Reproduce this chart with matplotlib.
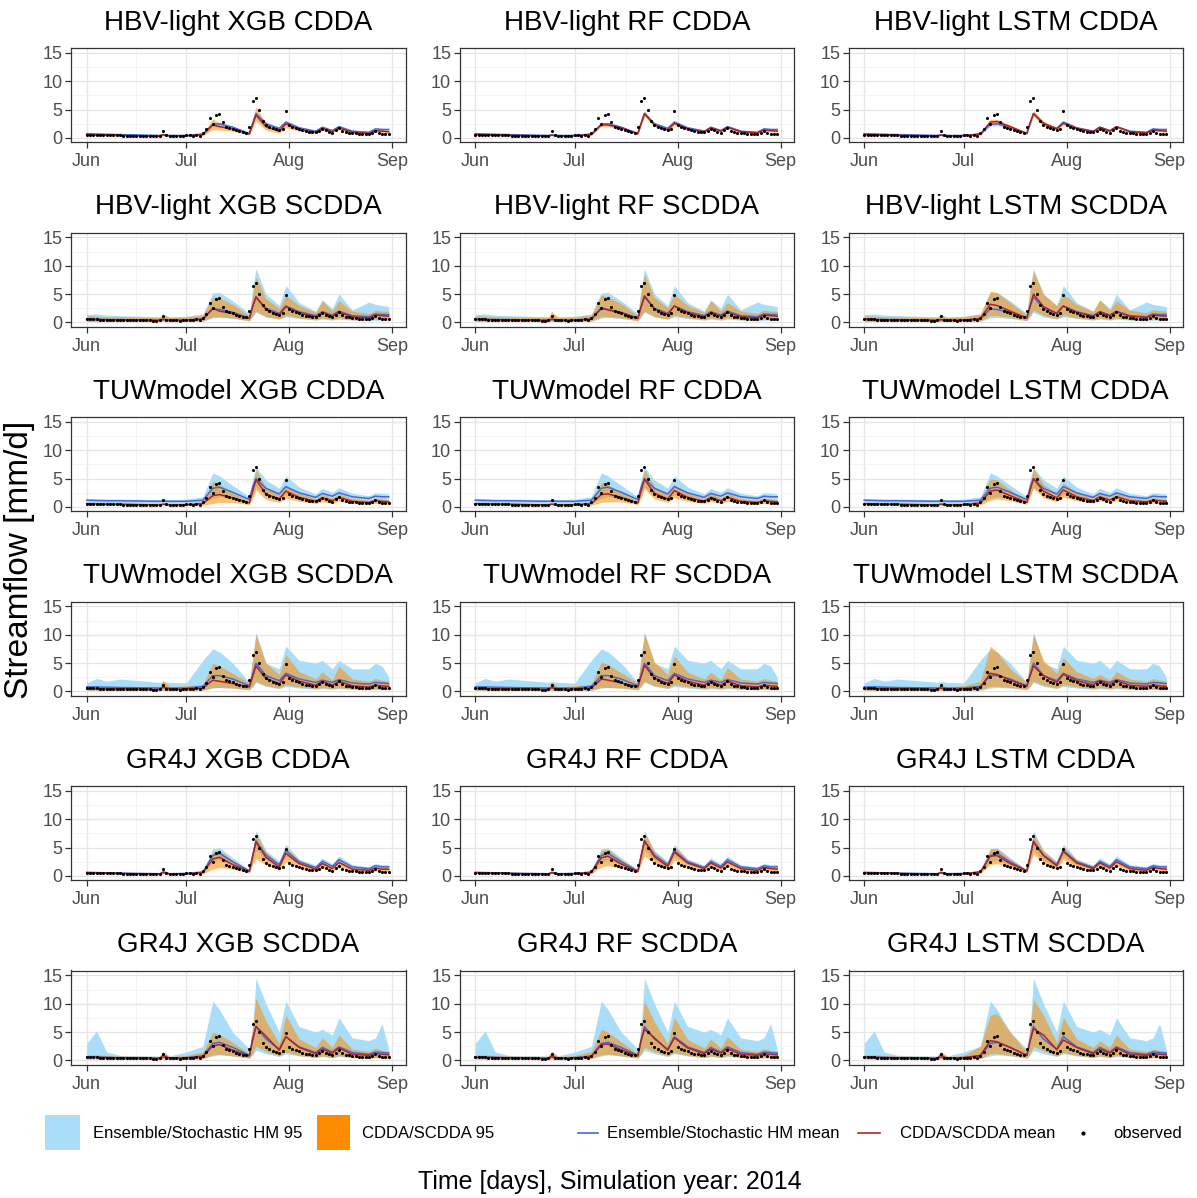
import numpy as np
import matplotlib
matplotlib.use("Agg")
import matplotlib.pyplot as plt
from matplotlib.patches import Rectangle
from matplotlib.lines import Line2D

plt.rcParams['font.family'] = ['Liberation Sans', 'DejaVu Sans']

# observed daily streamflow, 1 Jun - 31 Aug 2014 [mm/d]
observed = [0.55, 0.6, 0.55, 0.55, 0.5, 0.5, 0.5, 0.45, 0.45, 0.45,
            0.45, 0.4, 0.4, 0.4, 0.4, 0.4, 0.35, 0.35, 0.35, 0.35,
            0.3, 0.3, 0.35, 1.2, 0.5, 0.4, 0.35, 0.35, 0.3, 0.4,
            0.5, 0.5, 0.4, 0.6, 0.4, 0.8, 1.5, 3.5, 2.5, 4.1,
            4.3, 2.8, 2.0, 1.8, 1.6, 1.4, 1.2, 1.0, 0.9, 2.0,
            6.5, 7.0, 5.0, 3.0, 2.3, 2.0, 1.7, 1.5, 1.4, 1.6,
            4.8, 2.3, 2.0, 1.8, 1.6, 1.4, 1.2, 1.1, 1.0, 1.0,
            1.3, 1.6, 1.4, 1.1, 0.9, 1.4, 1.8, 1.3, 1.0, 0.9,
            0.8, 0.8, 0.7, 0.7, 0.7, 0.7, 0.8, 1.2, 0.8, 0.7, 0.7, 0.7]
obs_days = np.arange(len(observed))

# days (since 1 Jun) at which the simulated series were read off
key_days = [0, 3, 6, 10, 22, 23, 25, 30, 35, 38, 40, 44, 49, 50, 51, 54, 58, 60,
            64, 69, 71, 74, 76, 80, 85, 87, 89, 91]

models = ["HBV-light", "HBV-light", "TUWmodel", "TUWmodel", "GR4J", "GR4J"]
schemes = ["CDDA", "SCDDA", "CDDA", "SCDDA", "CDDA", "SCDDA"]
methods = ["XGB", "RF", "LSTM"]

# ---- ensemble / stochastic hydrological model (one per row) ----
hm_mean_hbv_cdda = [0.75, 0.7, 0.65, 0.6, 0.45, 0.55, 0.45, 0.45, 0.7, 2.4, 2.5, 1.9, 0.8, 2.6, 4.3, 2.5, 1.7, 2.8, 1.8, 1.2, 1.9, 1.3, 2.0, 1.2, 1.0, 1.6, 1.5, 1.5]
hm_lo_hbv_cdda = [0.6, 0.55, 0.5, 0.45, 0.35, 0.4, 0.35, 0.35, 0.55, 2.1, 2.2, 1.7, 0.65, 2.3, 3.9, 2.2, 1.5, 2.5, 1.6, 1.0, 1.7, 1.1, 1.8, 1.0, 0.85, 1.4, 1.3, 1.3]
hm_hi_hbv_cdda = [0.9, 0.85, 0.8, 0.75, 0.55, 0.7, 0.55, 0.55, 0.85, 2.7, 2.8, 2.1, 0.95, 2.9, 4.7, 2.8, 1.9, 3.1, 2.0, 1.4, 2.1, 1.5, 2.2, 1.4, 1.15, 1.8, 1.7, 1.7]

hm_mean_hbv_scdda = [0.6, 0.55, 0.5, 0.5, 0.4, 0.5, 0.4, 0.45, 0.6, 2.4, 2.3, 1.8, 0.8, 2.8, 4.5, 2.5, 1.6, 2.9, 1.9, 1.2, 1.9, 1.3, 2.0, 1.2, 1.0, 1.5, 1.4, 1.4]
hm_lo_hbv_scdda = [0.2, 0.2, 0.2, 0.2, 0.15, 0.2, 0.15, 0.15, 0.2, 0.8, 0.9, 0.7, 0.3, 1.0, 1.8, 1.0, 0.6, 1.0, 0.7, 0.4, 0.6, 0.4, 0.6, 0.4, 0.3, 0.4, 0.4, 0.4]
hm_hi_hbv_scdda = [1.4, 1.5, 1.3, 1.2, 1.0, 1.3, 1.0, 1.1, 1.5, 5.2, 5.3, 3.8, 1.6, 6.0, 9.5, 5.0, 3.0, 6.5, 3.5, 2.0, 4.0, 2.5, 5.0, 2.2, 3.6, 3.2, 3.0, 2.8]

hm_mean_tuw_cdda = [1.2, 1.15, 1.1, 1.1, 1.0, 1.05, 1.0, 1.0, 1.2, 3.3, 3.5, 2.6, 1.3, 3.5, 5.0, 3.3, 2.3, 3.6, 2.5, 1.7, 2.4, 1.9, 2.5, 1.8, 1.5, 1.9, 1.8, 1.8]
hm_lo_tuw_cdda = [0.8, 0.75, 0.7, 0.7, 0.6, 0.65, 0.6, 0.6, 0.7, 1.5, 1.8, 1.5, 0.8, 2.0, 3.5, 2.0, 1.4, 2.2, 1.6, 1.1, 1.5, 1.2, 1.6, 1.1, 0.9, 1.2, 1.1, 1.1]
hm_hi_tuw_cdda = [1.5, 1.45, 1.4, 1.4, 1.3, 1.4, 1.3, 1.4, 1.8, 6.0, 5.5, 3.8, 1.8, 5.0, 7.0, 4.8, 3.3, 5.5, 3.5, 2.3, 3.3, 2.6, 3.4, 2.4, 2.0, 2.5, 2.4, 2.3]

hm_mean_tuw_scdda = [0.8, 0.8, 0.75, 0.7, 0.6, 0.7, 0.6, 0.6, 0.9, 2.8, 2.8, 2.2, 1.0, 3.0, 5.0, 2.8, 1.9, 3.2, 2.2, 1.6, 2.0, 1.6, 2.1, 1.5, 1.3, 1.6, 1.5, 1.4]
hm_lo_tuw_scdda = [0.2, 0.2, 0.2, 0.2, 0.15, 0.2, 0.15, 0.15, 0.2, 0.6, 0.7, 0.6, 0.3, 0.8, 1.6, 0.9, 0.5, 0.9, 0.6, 0.4, 0.5, 0.4, 0.5, 0.4, 0.3, 0.4, 0.3, 0.3]
hm_hi_tuw_scdda = [1.5, 2.3, 1.8, 2.2, 1.6, 1.8, 1.6, 1.5, 5.5, 7.5, 7.0, 5.0, 1.6, 6.0, 10.5, 5.0, 4.0, 8.0, 5.5, 5.0, 5.5, 4.0, 5.5, 4.0, 4.0, 5.0, 4.5, 2.5]

hm_mean_gr4j_cdda = [0.65, 0.6, 0.55, 0.5, 0.4, 0.6, 0.4, 0.45, 0.7, 3.6, 4.0, 2.5, 0.9, 3.5, 6.2, 3.7, 2.0, 4.5, 2.5, 1.5, 2.6, 1.7, 2.9, 1.6, 1.3, 1.8, 1.6, 1.6]
hm_lo_gr4j_cdda = [0.55, 0.5, 0.45, 0.4, 0.3, 0.45, 0.3, 0.35, 0.55, 2.5, 2.8, 1.9, 0.7, 2.5, 4.5, 2.8, 1.5, 3.5, 2.0, 1.2, 2.0, 1.4, 2.3, 1.3, 1.1, 1.5, 1.3, 1.3]
hm_hi_gr4j_cdda = [0.8, 0.75, 0.7, 0.65, 0.5, 0.8, 0.5, 0.6, 0.9, 4.8, 5.0, 3.2, 1.1, 4.5, 8.0, 4.5, 2.6, 5.6, 3.0, 1.9, 3.2, 2.1, 3.5, 2.0, 1.6, 2.2, 2.0, 2.0]

hm_mean_gr4j_scdda = [0.6, 0.6, 0.55, 0.5, 0.4, 0.6, 0.4, 0.5, 0.8, 3.0, 3.2, 2.3, 0.9, 3.5, 6.0, 3.8, 2.0, 4.2, 2.4, 1.4, 2.3, 1.5, 2.4, 1.4, 1.1, 1.5, 1.4, 1.3]
hm_lo_gr4j_scdda = [0.3, 0.3, 0.3, 0.25, 0.2, 0.3, 0.2, 0.25, 0.35, 0.8, 1.0, 0.8, 0.4, 1.0, 1.8, 1.2, 0.7, 1.2, 0.8, 0.5, 0.7, 0.5, 0.7, 0.5, 0.4, 0.5, 0.45, 0.45]
hm_hi_gr4j_scdda = [3.0, 5.2, 1.5, 0.9, 0.8, 1.5, 0.8, 1.5, 2.5, 10.5, 9.0, 5.0, 2.0, 6.0, 14.5, 10.0, 5.0, 10.5, 6.0, 5.0, 5.5, 4.5, 7.5, 4.0, 3.5, 4.0, 6.5, 2.0]

# ---- CDDA / SCDDA (per row: XGB, RF, LSTM) ----
da_mean_hbv_cdda = [
    [0.55, 0.5, 0.5, 0.45, 0.3, 0.6, 0.35, 0.4, 0.6, 2.3, 2.0, 1.6, 0.7, 2.4, 4.0, 2.0, 1.2, 2.5, 1.5, 1.0, 1.7, 1.1, 1.8, 1.0, 0.8, 1.3, 1.2, 1.1],
    [0.6, 0.55, 0.5, 0.45, 0.35, 0.5, 0.35, 0.4, 0.6, 2.4, 2.3, 1.8, 0.75, 2.6, 4.3, 2.3, 1.4, 2.6, 1.6, 1.1, 1.8, 1.2, 1.9, 1.1, 0.9, 1.4, 1.3, 1.2],
    [0.6, 0.55, 0.5, 0.45, 0.35, 0.5, 0.35, 0.4, 0.7, 2.8, 2.9, 2.0, 0.8, 2.7, 4.3, 2.6, 1.6, 2.6, 1.7, 1.1, 1.9, 1.2, 2.0, 1.1, 0.9, 1.4, 1.3, 1.2]]
da_lo_hbv_cdda = [
    [0.4, 0.4, 0.4, 0.35, 0.25, 0.4, 0.25, 0.3, 0.4, 1.5, 1.4, 1.2, 0.5, 1.8, 3.0, 1.4, 0.8, 1.8, 1.2, 0.8, 1.4, 0.9, 1.5, 0.8, 0.6, 1.0, 0.9, 0.8],
    [0.5, 0.45, 0.4, 0.35, 0.28, 0.4, 0.28, 0.3, 0.5, 2.0, 2.0, 1.5, 0.6, 2.2, 3.8, 2.0, 1.2, 2.2, 1.4, 0.9, 1.6, 1.0, 1.7, 0.9, 0.75, 1.2, 1.1, 1.0],
    [0.5, 0.45, 0.4, 0.35, 0.28, 0.4, 0.28, 0.3, 0.55, 2.4, 2.5, 1.7, 0.65, 2.3, 3.9, 2.2, 1.3, 2.3, 1.5, 0.9, 1.6, 1.0, 1.8, 0.9, 0.75, 1.2, 1.1, 1.0]]
da_hi_hbv_cdda = [
    [0.7, 0.65, 0.6, 0.55, 0.4, 0.8, 0.45, 0.5, 0.8, 3.4, 2.6, 2.0, 0.9, 3.2, 5.5, 2.6, 1.6, 3.0, 1.8, 1.2, 2.0, 1.3, 2.0, 1.2, 1.0, 1.5, 1.4, 1.3],
    [0.7, 0.65, 0.6, 0.55, 0.42, 0.6, 0.42, 0.5, 0.7, 2.8, 2.6, 2.0, 0.9, 3.0, 4.8, 2.6, 1.6, 2.9, 1.8, 1.3, 2.0, 1.4, 2.1, 1.3, 1.1, 1.6, 1.5, 1.4],
    [0.7, 0.65, 0.6, 0.55, 0.42, 0.6, 0.42, 0.5, 0.85, 3.3, 3.3, 2.3, 0.95, 3.1, 4.8, 3.0, 1.9, 2.9, 1.9, 1.3, 2.1, 1.4, 2.2, 1.3, 1.1, 1.6, 1.5, 1.4]]

da_mean_hbv_scdda = [
    [0.55, 0.5, 0.5, 0.45, 0.35, 0.6, 0.35, 0.4, 0.6, 2.5, 2.0, 1.6, 0.7, 2.8, 4.5, 2.3, 1.3, 2.8, 1.7, 1.0, 1.8, 1.1, 1.8, 1.0, 0.8, 1.3, 1.2, 1.1],
    [0.55, 0.5, 0.5, 0.45, 0.35, 0.6, 0.35, 0.4, 0.6, 2.6, 2.2, 1.7, 0.7, 2.8, 4.7, 2.4, 1.4, 2.9, 1.7, 1.0, 1.8, 1.1, 1.8, 1.0, 0.8, 1.3, 1.2, 1.1],
    [0.55, 0.5, 0.5, 0.45, 0.35, 0.5, 0.35, 0.4, 0.7, 3.2, 3.0, 2.0, 0.8, 3.0, 5.0, 2.8, 1.6, 2.9, 1.8, 1.1, 1.9, 1.2, 1.9, 1.1, 0.9, 1.3, 1.2, 1.1]]
da_lo_hbv_scdda = [
    [0.2, 0.2, 0.2, 0.2, 0.15, 0.3, 0.15, 0.2, 0.3, 1.0, 1.0, 0.8, 0.3, 1.2, 2.0, 1.0, 0.6, 1.3, 0.8, 0.5, 0.8, 0.5, 0.8, 0.5, 0.4, 0.6, 0.5, 0.5],
    [0.2, 0.2, 0.2, 0.2, 0.15, 0.3, 0.15, 0.2, 0.3, 1.0, 1.0, 0.8, 0.3, 1.2, 2.0, 1.0, 0.6, 1.3, 0.8, 0.5, 0.8, 0.5, 0.8, 0.5, 0.4, 0.6, 0.5, 0.5],
    [0.2, 0.2, 0.2, 0.2, 0.15, 0.2, 0.15, 0.2, 0.3, 1.2, 1.2, 0.9, 0.35, 1.3, 2.2, 1.2, 0.7, 1.3, 0.8, 0.5, 0.8, 0.5, 0.8, 0.5, 0.4, 0.6, 0.5, 0.5]]
da_hi_hbv_scdda = [
    [1.2, 1.1, 1.0, 1.0, 0.9, 1.4, 0.9, 1.0, 1.3, 4.5, 4.3, 3.2, 1.2, 5.0, 8.0, 4.2, 2.5, 4.8, 3.0, 1.8, 3.8, 2.0, 3.8, 2.0, 1.6, 2.2, 2.0, 2.0],
    [1.2, 1.1, 1.0, 1.0, 0.9, 2.0, 0.9, 1.0, 1.3, 4.8, 4.5, 3.3, 1.2, 5.5, 8.5, 4.4, 2.6, 5.0, 3.0, 1.8, 3.8, 2.0, 3.5, 2.0, 1.6, 2.2, 2.0, 2.0],
    [1.2, 1.1, 1.0, 1.0, 0.9, 1.3, 0.9, 1.0, 1.5, 5.5, 5.3, 3.5, 1.3, 6.0, 9.0, 5.0, 3.0, 5.0, 3.2, 2.0, 4.0, 2.2, 3.8, 2.2, 1.7, 2.3, 2.1, 2.0]]

da_mean_tuw_cdda = [
    [0.6, 0.55, 0.5, 0.5, 0.35, 0.5, 0.35, 0.4, 0.6, 2.0, 2.2, 1.6, 0.7, 2.8, 4.8, 2.3, 1.4, 2.8, 1.7, 1.0, 1.6, 1.1, 1.7, 1.0, 0.8, 1.1, 1.0, 0.9],
    [0.6, 0.55, 0.5, 0.5, 0.35, 0.5, 0.35, 0.4, 0.6, 2.2, 2.3, 1.7, 0.7, 2.9, 4.9, 2.4, 1.4, 2.9, 1.7, 1.0, 1.7, 1.1, 1.7, 1.0, 0.8, 1.1, 1.0, 0.9],
    [0.6, 0.55, 0.5, 0.5, 0.35, 0.5, 0.35, 0.4, 0.7, 2.8, 3.0, 2.0, 0.8, 3.0, 5.0, 2.8, 1.6, 3.0, 1.8, 1.1, 1.8, 1.2, 1.8, 1.1, 0.9, 1.2, 1.1, 1.0]]
da_lo_tuw_cdda = [
    [0.35, 0.3, 0.3, 0.3, 0.2, 0.3, 0.2, 0.25, 0.3, 0.6, 0.8, 0.8, 0.4, 1.5, 3.0, 1.3, 0.8, 1.5, 1.0, 0.6, 0.9, 0.6, 1.0, 0.6, 0.5, 0.6, 0.5, 0.5],
    [0.35, 0.3, 0.3, 0.3, 0.2, 0.3, 0.2, 0.25, 0.3, 0.8, 0.9, 0.9, 0.4, 1.6, 3.2, 1.4, 0.8, 1.6, 1.0, 0.6, 1.0, 0.6, 1.0, 0.6, 0.5, 0.6, 0.5, 0.5],
    [0.35, 0.3, 0.3, 0.3, 0.2, 0.3, 0.2, 0.25, 0.35, 1.2, 1.4, 1.1, 0.45, 1.7, 3.3, 1.6, 0.9, 1.7, 1.1, 0.7, 1.1, 0.7, 1.1, 0.7, 0.55, 0.7, 0.6, 0.6]]
da_hi_tuw_cdda = [
    [0.8, 0.75, 0.7, 0.7, 0.5, 0.8, 0.5, 0.6, 1.0, 4.5, 4.0, 2.5, 1.0, 4.0, 6.5, 3.5, 2.2, 3.8, 2.4, 1.5, 2.3, 1.6, 2.3, 1.5, 1.2, 1.6, 1.4, 1.3],
    [0.8, 0.75, 0.7, 0.7, 0.5, 0.8, 0.5, 0.6, 1.0, 4.3, 4.0, 2.6, 1.0, 4.2, 6.6, 3.6, 2.2, 3.9, 2.4, 1.5, 2.4, 1.6, 2.4, 1.5, 1.2, 1.6, 1.4, 1.3],
    [0.8, 0.75, 0.7, 0.7, 0.5, 0.8, 0.5, 0.6, 1.2, 5.0, 4.8, 3.0, 1.1, 4.3, 6.8, 4.0, 2.4, 4.2, 2.6, 1.6, 2.5, 1.7, 2.5, 1.6, 1.3, 1.7, 1.5, 1.4]]

da_mean_tuw_scdda = [
    [0.5, 0.5, 0.45, 0.45, 0.35, 0.8, 0.35, 0.45, 0.6, 2.0, 1.8, 1.4, 0.8, 2.6, 4.5, 2.3, 1.4, 2.9, 1.8, 1.1, 1.8, 1.1, 1.8, 1.0, 0.8, 1.1, 1.0, 0.9],
    [0.5, 0.5, 0.45, 0.45, 0.35, 0.7, 0.35, 0.45, 0.6, 2.2, 2.0, 1.5, 0.8, 2.7, 4.6, 2.4, 1.4, 2.9, 1.8, 1.1, 1.8, 1.1, 1.8, 1.0, 0.8, 1.1, 1.0, 0.9],
    [0.5, 0.5, 0.45, 0.45, 0.35, 0.6, 0.35, 0.45, 0.7, 3.2, 3.0, 2.0, 0.9, 2.8, 4.5, 2.8, 1.6, 3.0, 1.9, 1.2, 1.9, 1.2, 1.9, 1.1, 0.9, 1.1, 1.0, 0.9]]
da_lo_tuw_scdda = [
    [0.2, 0.2, 0.2, 0.2, 0.15, 0.3, 0.15, 0.2, 0.25, 0.7, 0.7, 0.6, 0.3, 1.0, 1.8, 1.0, 0.6, 1.2, 0.8, 0.5, 0.7, 0.5, 0.7, 0.4, 0.35, 0.4, 0.35, 0.35],
    [0.2, 0.2, 0.2, 0.2, 0.15, 0.3, 0.15, 0.2, 0.25, 0.7, 0.7, 0.6, 0.3, 1.0, 1.8, 1.0, 0.6, 1.2, 0.8, 0.5, 0.7, 0.5, 0.7, 0.4, 0.35, 0.4, 0.35, 0.35],
    [0.2, 0.2, 0.2, 0.2, 0.15, 0.25, 0.15, 0.2, 0.3, 0.9, 0.9, 0.7, 0.35, 1.0, 1.8, 1.1, 0.6, 1.2, 0.8, 0.5, 0.7, 0.5, 0.7, 0.4, 0.35, 0.4, 0.35, 0.35]]
da_hi_tuw_scdda = [
    [1.0, 1.0, 0.9, 0.9, 0.8, 2.0, 0.8, 1.0, 1.2, 5.0, 4.5, 3.2, 1.5, 6.0, 10.0, 5.0, 3.0, 6.5, 3.5, 2.2, 3.5, 2.0, 4.5, 2.2, 1.8, 2.3, 2.0, 1.8],
    [1.0, 1.0, 0.9, 0.9, 0.8, 1.6, 0.8, 1.0, 1.3, 5.2, 4.8, 3.3, 1.5, 6.2, 10.2, 5.2, 3.0, 6.3, 3.4, 2.2, 3.4, 2.0, 4.2, 2.2, 1.8, 2.3, 2.0, 1.8],
    [1.0, 1.0, 0.9, 0.9, 0.8, 1.2, 0.8, 1.0, 1.8, 8.0, 7.0, 4.0, 1.6, 6.0, 10.0, 5.5, 3.2, 6.0, 3.5, 2.3, 3.0, 2.0, 3.5, 2.2, 1.8, 2.3, 2.0, 1.8]]

da_mean_gr4j_cdda = [
    [0.55, 0.5, 0.5, 0.45, 0.3, 0.7, 0.35, 0.4, 0.6, 3.0, 3.3, 2.0, 0.8, 3.5, 6.0, 3.3, 1.6, 4.0, 2.2, 1.2, 2.2, 1.3, 2.4, 1.2, 1.0, 1.4, 1.2, 1.2],
    [0.55, 0.5, 0.5, 0.45, 0.3, 0.6, 0.35, 0.4, 0.6, 3.2, 3.5, 2.1, 0.8, 3.6, 6.2, 3.4, 1.7, 4.2, 2.3, 1.3, 2.3, 1.4, 2.5, 1.3, 1.0, 1.5, 1.3, 1.2],
    [0.55, 0.5, 0.5, 0.45, 0.3, 0.6, 0.35, 0.4, 0.7, 3.5, 3.6, 2.2, 0.9, 3.5, 6.0, 3.6, 1.8, 4.3, 2.3, 1.3, 2.3, 1.4, 2.5, 1.3, 1.0, 1.5, 1.3, 1.2]]
da_lo_gr4j_cdda = [
    [0.4, 0.4, 0.4, 0.35, 0.25, 0.45, 0.25, 0.3, 0.4, 1.2, 1.5, 1.2, 0.55, 2.0, 3.0, 2.0, 1.0, 2.5, 1.4, 0.8, 1.4, 0.8, 1.6, 0.8, 0.6, 0.9, 0.8, 0.8],
    [0.4, 0.4, 0.4, 0.35, 0.25, 0.4, 0.25, 0.3, 0.4, 1.6, 1.8, 1.4, 0.6, 2.2, 3.5, 2.2, 1.1, 2.8, 1.5, 0.9, 1.5, 0.9, 1.7, 0.9, 0.7, 1.0, 0.9, 0.8],
    [0.4, 0.4, 0.4, 0.35, 0.25, 0.4, 0.25, 0.3, 0.45, 2.0, 2.2, 1.5, 0.65, 2.2, 3.8, 2.3, 1.2, 2.9, 1.6, 0.9, 1.6, 1.0, 1.8, 0.9, 0.7, 1.0, 0.9, 0.8]]
da_hi_gr4j_cdda = [
    [0.7, 0.65, 0.6, 0.55, 0.4, 1.2, 0.45, 0.5, 0.8, 4.3, 4.5, 2.8, 1.0, 4.5, 7.5, 4.2, 2.2, 5.0, 2.8, 1.6, 2.7, 1.7, 2.8, 1.5, 1.3, 1.7, 1.5, 1.5],
    [0.7, 0.65, 0.6, 0.55, 0.4, 1.0, 0.45, 0.5, 0.8, 4.5, 4.7, 2.9, 1.0, 4.6, 7.6, 4.3, 2.3, 5.2, 2.9, 1.7, 2.8, 1.8, 2.9, 1.6, 1.3, 1.8, 1.6, 1.5],
    [0.7, 0.65, 0.6, 0.55, 0.4, 1.0, 0.45, 0.5, 1.0, 4.8, 4.8, 3.0, 1.1, 4.6, 7.4, 4.5, 2.4, 5.2, 2.9, 1.7, 2.8, 1.8, 2.9, 1.6, 1.3, 1.8, 1.6, 1.5]]

da_mean_gr4j_scdda = [
    [0.55, 0.55, 0.5, 0.45, 0.35, 0.9, 0.4, 0.45, 0.7, 2.6, 2.8, 1.8, 0.8, 3.8, 6.0, 4.3, 1.8, 4.2, 2.3, 1.2, 2.0, 1.3, 2.2, 1.1, 0.9, 1.2, 1.1, 1.0],
    [0.55, 0.55, 0.5, 0.45, 0.35, 0.8, 0.4, 0.45, 0.7, 2.8, 2.9, 1.9, 0.8, 3.6, 5.5, 4.0, 1.8, 4.0, 2.2, 1.2, 2.0, 1.3, 2.1, 1.1, 0.9, 1.2, 1.1, 1.0],
    [0.55, 0.55, 0.5, 0.45, 0.35, 0.9, 0.4, 0.5, 0.9, 3.5, 3.3, 2.3, 0.9, 3.5, 5.6, 4.5, 1.9, 3.6, 2.3, 1.2, 2.0, 1.3, 2.2, 1.1, 0.9, 1.2, 1.1, 1.0]]
da_lo_gr4j_scdda = [
    [0.25, 0.25, 0.25, 0.2, 0.15, 0.3, 0.15, 0.2, 0.3, 1.0, 1.1, 0.8, 0.4, 1.3, 2.5, 1.6, 0.8, 1.5, 0.9, 0.5, 0.8, 0.5, 0.9, 0.5, 0.4, 0.5, 0.45, 0.4],
    [0.25, 0.25, 0.25, 0.2, 0.15, 0.3, 0.15, 0.2, 0.3, 1.0, 1.1, 0.8, 0.4, 1.3, 2.3, 1.5, 0.8, 1.4, 0.9, 0.5, 0.8, 0.5, 0.9, 0.5, 0.4, 0.5, 0.45, 0.4],
    [0.25, 0.25, 0.25, 0.2, 0.15, 0.3, 0.15, 0.2, 0.35, 1.2, 1.2, 0.9, 0.4, 1.3, 2.5, 1.7, 0.8, 1.4, 0.9, 0.5, 0.8, 0.5, 0.9, 0.5, 0.4, 0.5, 0.45, 0.4]]
da_hi_gr4j_scdda = [
    [1.0, 1.0, 0.9, 0.8, 0.7, 1.6, 0.7, 0.9, 1.5, 5.0, 4.6, 3.2, 1.2, 6.0, 11.0, 7.0, 3.0, 8.0, 3.8, 2.3, 4.0, 2.3, 4.5, 2.0, 1.6, 2.2, 1.8, 1.6],
    [1.0, 1.0, 0.9, 0.8, 0.7, 1.6, 0.7, 0.9, 1.6, 5.5, 5.0, 3.3, 1.2, 5.8, 10.5, 6.8, 3.0, 7.6, 3.7, 2.2, 3.8, 2.2, 4.2, 2.0, 1.6, 2.1, 1.8, 1.6],
    [1.0, 1.0, 0.9, 0.8, 0.7, 1.6, 0.7, 0.9, 2.5, 8.0, 8.3, 5.0, 1.5, 6.0, 10.8, 8.0, 3.2, 7.6, 3.8, 2.3, 3.5, 2.3, 4.5, 2.0, 1.6, 2.0, 1.8, 1.6]]

hm_mean = [hm_mean_hbv_cdda, hm_mean_hbv_scdda, hm_mean_tuw_cdda, hm_mean_tuw_scdda, hm_mean_gr4j_cdda, hm_mean_gr4j_scdda]
hm_lo = [hm_lo_hbv_cdda, hm_lo_hbv_scdda, hm_lo_tuw_cdda, hm_lo_tuw_scdda, hm_lo_gr4j_cdda, hm_lo_gr4j_scdda]
hm_hi = [hm_hi_hbv_cdda, hm_hi_hbv_scdda, hm_hi_tuw_cdda, hm_hi_tuw_scdda, hm_hi_gr4j_cdda, hm_hi_gr4j_scdda]
da_mean = [da_mean_hbv_cdda, da_mean_hbv_scdda, da_mean_tuw_cdda, da_mean_tuw_scdda, da_mean_gr4j_cdda, da_mean_gr4j_scdda]
da_lo = [da_lo_hbv_cdda, da_lo_hbv_scdda, da_lo_tuw_cdda, da_lo_tuw_scdda, da_lo_gr4j_cdda, da_lo_gr4j_scdda]
da_hi = [da_hi_hbv_cdda, da_hi_hbv_scdda, da_hi_tuw_cdda, da_hi_tuw_scdda, da_hi_gr4j_cdda, da_hi_gr4j_scdda]

month_ticks = [0, 30, 61, 92]
month_labels = ["Jun", "Jul", "Aug", "Sep"]

BLUE_FILL = "#AADDF7"
ORANGE = "#FF8C00"
BLUE_LINE = "#4169E1"
RED_LINE = "#B22222"

W, H = 1197, 1198
fig = plt.figure(figsize=(W / 100, H / 100), dpi=100)

col_left = [71, 459.5, 848.5]
panel_w, panel_h = 334.5, 94

for r in range(6):
    for c in range(3):
        top = 48 + 184.5 * r
        ax = fig.add_axes([col_left[c] / W, 1 - (top + panel_h) / H, panel_w / W, panel_h / H])
        ax.fill_between(key_days, hm_lo[r], hm_hi[r], color=BLUE_FILL, lw=0, zorder=2)
        ax.fill_between(key_days, da_lo[r][c], da_hi[r][c], color=ORANGE, alpha=0.55, lw=0, zorder=3)
        ax.plot(key_days, hm_mean[r], color=BLUE_LINE, lw=1.1, zorder=4)
        ax.plot(key_days, da_mean[r][c], color=RED_LINE, lw=1.1, zorder=5)
        ax.scatter(obs_days, observed, s=5, color="black", marker="o", lw=0, zorder=6)

        ax.set_xlim(-4.73, 96.05)
        ax.set_ylim(-0.71, 15.88)
        ax.set_xticks(month_ticks)
        ax.set_xticklabels(month_labels)
        ax.set_xticks([15, 45.5, 76.5], minor=True)
        ax.set_yticks([0, 5, 10, 15])
        ax.set_yticks([2.5, 7.5, 12.5], minor=True)
        ax.grid(which="major", color="#E5E5E5", lw=0.9)
        ax.grid(which="minor", color="#F2F2F2", lw=0.6)
        ax.set_axisbelow(True)
        for s in ax.spines.values():
            s.set_color("#333333")
            s.set_linewidth(0.9)
        ax.tick_params(which="major", length=4, width=0.9, color="#333333",
                       labelcolor="#4D4D4D", labelsize=13, pad=2)
        ax.tick_params(axis="x", which="major", pad=4)
        ax.tick_params(which="minor", length=0)
        ax.set_title(f"{models[r]} {methods[c]} {schemes[r]}", fontsize=20, pad=13)

# legend
def fx(px):
    return px / W

def fy(py):
    return 1 - py / H

fig.patches.append(Rectangle((fx(45), fy(1150)), fx(35), 35 / H, transform=fig.transFigure,
                             facecolor=BLUE_FILL, edgecolor="none"))
fig.patches.append(Rectangle((fx(317), fy(1150)), fx(33), 35 / H, transform=fig.transFigure,
                             facecolor=ORANGE, edgecolor="none"))
fig.lines.append(Line2D([fx(578), fx(598)], [fy(1133), fy(1133)], transform=fig.transFigure,
                        color=BLUE_LINE, lw=1.2))
fig.lines.append(Line2D([fx(858), fx(880)], [fy(1133), fy(1133)], transform=fig.transFigure,
                        color=RED_LINE, lw=1.2))
fig.lines.append(Line2D([fx(1083)], [fy(1133)], transform=fig.transFigure,
                        color="black", marker="o", markersize=2, lw=0))
leg_fs = 12
fig.text(fx(93), fy(1133), "Ensemble/Stochastic HM 95", fontsize=leg_fs, va="center")
fig.text(fx(362), fy(1133), "CDDA/SCDDA 95", fontsize=leg_fs, va="center")
fig.text(fx(607), fy(1133), "Ensemble/Stochastic HM mean", fontsize=leg_fs, va="center")
fig.text(fx(900), fy(1133), "CDDA/SCDDA mean", fontsize=leg_fs, va="center")
fig.text(fx(1113), fy(1133), "observed", fontsize=leg_fs, va="center")

fig.text(fx(610), fy(1182), "Time [days], Simulation year: 2014", fontsize=18, ha="center", va="center")
fig.text(fx(20), fy(560), "Streamflow [mm/d]", fontsize=24, rotation=90, ha="center", va="center")

fig.savefig("out.png", dpi=100)
